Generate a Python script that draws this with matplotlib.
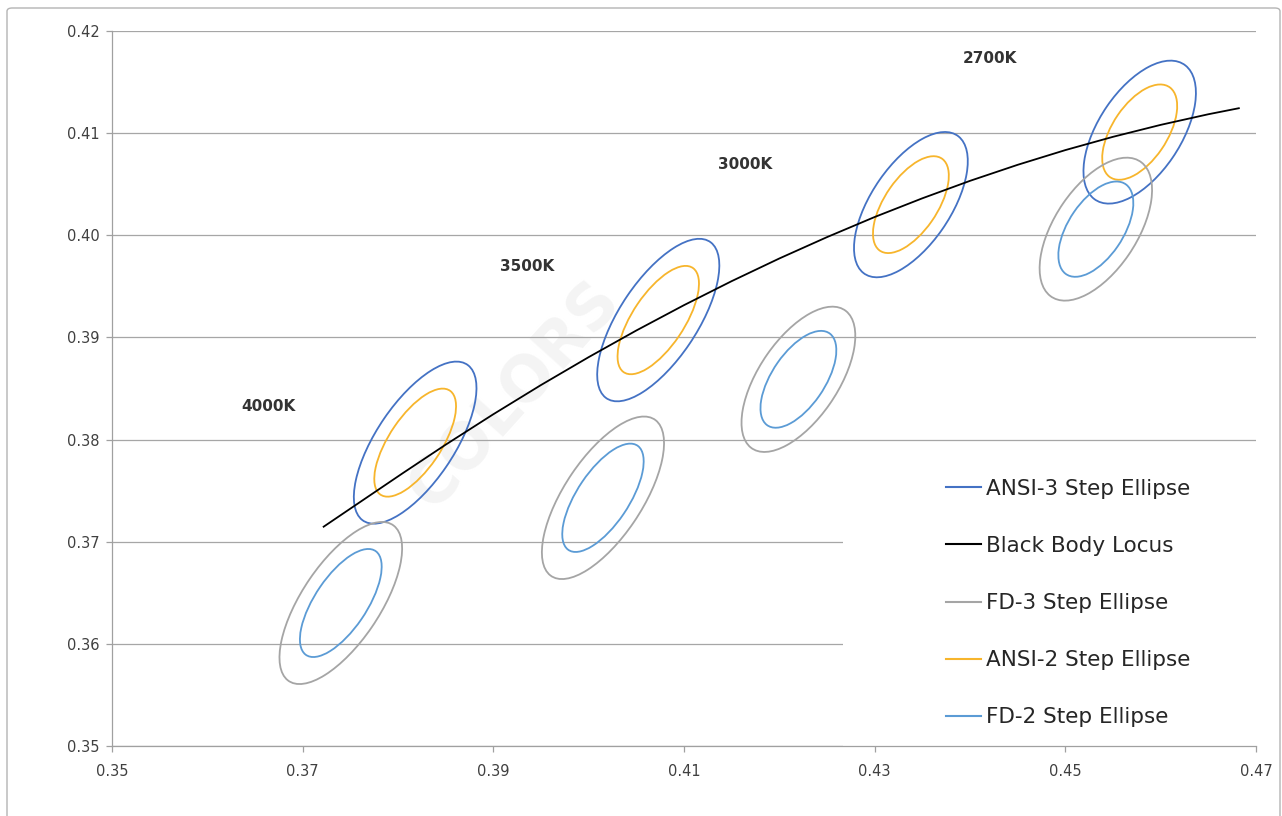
import matplotlib
matplotlib.use("Agg")
import matplotlib.pyplot as plt
from matplotlib.patches import Ellipse, Rectangle, FancyBboxPatch
from matplotlib.lines import Line2D

# CCT labels and where they sit
cct_labels = ["4000K", "3500K", "3000K", "2700K"]
label_x = [0.3664, 0.3935, 0.4164, 0.4421]
label_y = [0.3832, 0.3969, 0.4069, 0.4173]

# ellipse centres (CIE 1931 x, y)
ansi_x = [0.3818, 0.4073, 0.4338, 0.4578]
ansi_y = [0.3797, 0.3917, 0.4030, 0.4101]
fd_x = [0.3740, 0.4015, 0.4220, 0.4532]
fd_y = [0.3640, 0.3743, 0.3859, 0.4006]

# one-step semi axes and tilt (deg)
step_a = [0.00313, 0.00313, 0.00278, 0.00270]
step_b = [0.00134, 0.00134, 0.00136, 0.00142]
tilt = [53.72, 54.00, 53.22, 53.70]

# black body locus
locus_x = [0.3722, 0.3760, 0.3805, 0.3850, 0.3900, 0.3950, 0.4000, 0.4050,
           0.4100, 0.4150, 0.4200, 0.4250, 0.4300, 0.4350, 0.4400, 0.4450,
           0.4500, 0.4550, 0.4600, 0.4650, 0.4682]
locus_y = [0.37147, 0.37387, 0.37671, 0.37950, 0.38248, 0.38534, 0.38807,
           0.39068, 0.39316, 0.39551, 0.39773, 0.39982, 0.40179, 0.40362,
           0.40533, 0.40690, 0.40834, 0.40964, 0.41081, 0.41185, 0.41244]

c_ansi3 = "#4472C4"
c_ansi2 = "#F7B52C"
c_fd3 = "#A5A5A5"
c_fd2 = "#5B9BD5"
lw = 1.3

fig = plt.figure(figsize=(12.82, 8.16), dpi=100)
ax = fig.add_axes([112/1282, 1-746/816, 1144/1282, 715/816])

# outer chart frame
fig.patches.append(FancyBboxPatch((7/1282, -0.05), 1273/1282, 1.05 - 8/816,
                                  boxstyle="round,pad=0,rounding_size=0.004",
                                  transform=fig.transFigure, fill=False,
                                  edgecolor="#b4b4b4", linewidth=1.0))

# faint watermark
ax.text(0.3923, 0.3844, "COLORS", rotation=48, fontsize=45, fontweight="bold",
        color="#f4f4f4", ha="center", va="center", zorder=0)

for i in range(len(cct_labels)):
    for n, col, cx, cy in [(3, c_ansi3, ansi_x, ansi_y), (2, c_ansi2, ansi_x, ansi_y),
                           (3, c_fd3, fd_x, fd_y), (2, c_fd2, fd_x, fd_y)]:
        ax.add_patch(Ellipse((cx[i], cy[i]), 2*n*step_a[i], 2*n*step_b[i],
                             angle=tilt[i], fill=False, edgecolor=col,
                             linewidth=lw, zorder=3))
    ax.text(label_x[i], label_y[i], cct_labels[i], fontsize=11, fontweight="bold",
            color="#333333", ha="center", va="center")

ax.plot(locus_x, locus_y, color="black", linewidth=1.3, zorder=4)

ax.set_xlim(0.35, 0.47)
ax.set_ylim(0.35, 0.42)
ax.set_xticks([0.35, 0.37, 0.39, 0.41, 0.43, 0.45, 0.47])
ax.set_yticks([0.35, 0.36, 0.37, 0.38, 0.39, 0.40, 0.41, 0.42])
ax.set_xticklabels(["0.35", "0.37", "0.39", "0.41", "0.43", "0.45", "0.47"])
ax.set_yticklabels(["0.35", "0.36", "0.37", "0.38", "0.39", "0.40", "0.41", "0.42"])
ax.tick_params(labelsize=10.5, labelcolor="#404040", color="#a0a0a0",
               length=4, width=0.9)
ax.tick_params(axis="y", pad=5)
ax.tick_params(axis="x", pad=9)
for s in ["top", "right"]:
    ax.spines[s].set_visible(False)
for s in ["left", "bottom"]:
    ax.spines[s].set_color("#a0a0a0")
    ax.spines[s].set_linewidth(0.9)
ax.set_axisbelow(True)
ax.yaxis.grid(True, color="#a6a6a6", linewidth=0.9)

# white legend area
ax.add_patch(Rectangle((0.639, 0), 0.361, 0.40, transform=ax.transAxes,
                       facecolor="white", edgecolor="none", zorder=1))

handles = [Line2D([], [], color=c_ansi3, lw=1.5),
           Line2D([], [], color="black", lw=1.5),
           Line2D([], [], color=c_fd3, lw=1.5),
           Line2D([], [], color=c_ansi2, lw=1.5),
           Line2D([], [], color=c_fd2, lw=1.5)]
labels = ["ANSI-3 Step Ellipse", "Black Body Locus", "FD-3 Step Ellipse",
          "ANSI-2 Step Ellipse", "FD-2 Step Ellipse"]
leg = ax.legend(handles, labels, loc="upper left",
                bbox_to_anchor=(946/1282, 1-479/816), bbox_transform=fig.transFigure,
                frameon=False, borderpad=0, borderaxespad=0, fontsize=15.5,
                handlelength=1.63, handletextpad=0.25, labelspacing=1.72)
for t in leg.get_texts():
    t.set_color("#262626")

fig.savefig("out.png", dpi=100, facecolor="white")
